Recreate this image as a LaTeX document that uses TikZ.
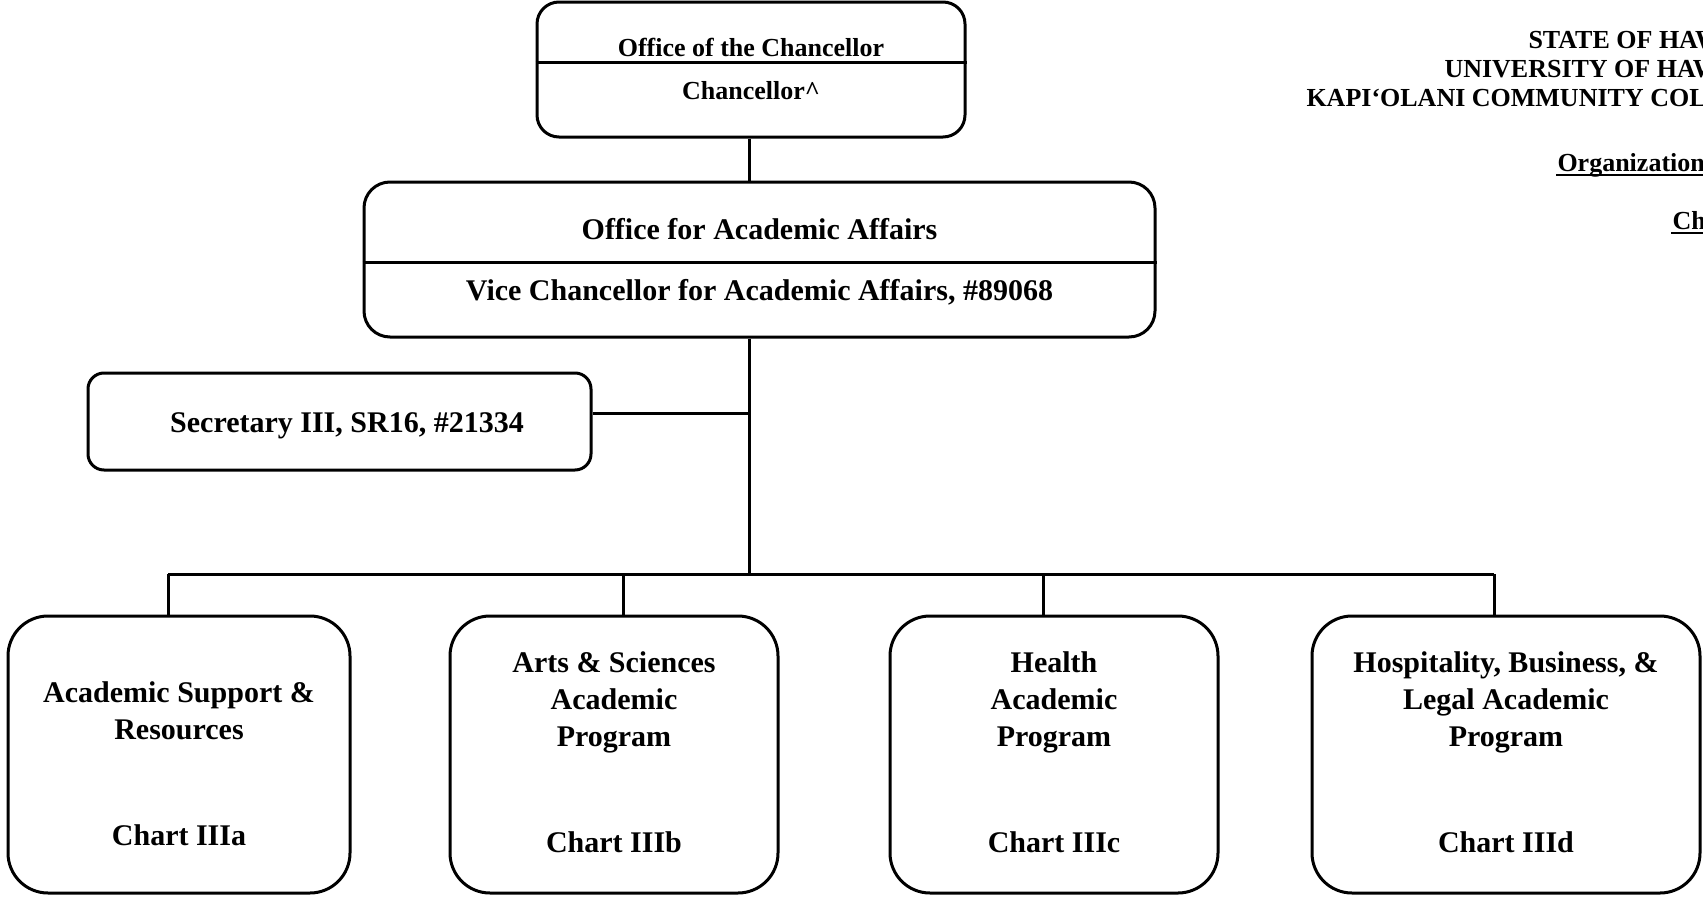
\documentclass[tikz,border=0pt]{standalone}
\usepackage{fontspec}
\setmainfont{Liberation Serif}
\begin{document}
\begin{tikzpicture}[x=1pt,y=-1pt,line width=3pt,
  box/.style={draw, rounded corners=#1, inner sep=0pt, line width=3pt},
  txtA/.style={inner sep=0pt, align=center, font=\bfseries\fontsize{30}{37}\selectfont},
  txtB/.style={inner sep=0pt, align=center, font=\bfseries\fontsize{26}{30}\selectfont},
  hdr/.style={inner sep=0pt, anchor=base west, font=\bfseries\fontsize{26}{29}\selectfont},
  uline/.style={line width=2pt}]
\useasboundingbox (0,0) rectangle (1703,902);
\clip (0,0) rectangle (1703,902);

% Header (cut by the right edge, as in the original)
\node[hdr] (h1) at (1527,48) {STATE OF HAW};
\node[hdr] (h2) at (1443,77) {UNIVERSITY OF HAW};
\node[hdr] (h3) at (1305,106) {KAPI‘OLANI COMMUNITY COLL};
\node[hdr] (h4) at (1556,171) {Organization};
\node[hdr] (h5) at (1671,229) {Ch};
\draw[uline] ([yshift=-4pt]h4.base west) -- ([yshift=-4pt]h4.base east);
\draw[uline] ([yshift=-4pt]h5.base west) -- ([yshift=-4pt]h5.base east);

% Chancellor
\node[box=22pt, minimum width=428pt, minimum height=135pt] (chan) at (751,69.5) {};
\coordinate (cdiv) at (751,62);
\draw (chan.west |- cdiv) -- (chan.east |- cdiv);
\node[txtB] (chan1) at (751,47) {Office of the Chancellor};
\node[txtB] (chan2) at (751,91) {Chancellor\^{}};

% Vice Chancellor
\node[box=26pt, minimum width=791pt, minimum height=155pt] (vcaa) at (759.5,259.5) {};
\coordinate (vdiv) at (759.5,262);
\draw (vcaa.west |- vdiv) -- (vcaa.east |- vdiv);
\node[txtA] (vcaa1) at (759.5,229) {Office for Academic Affairs};
\node[txtA] (vcaa2) at (759.5,292) {Vice Chancellor for Academic Affairs, \#89068};

% Secretary
\node[box=16pt, minimum width=503pt, minimum height=97pt] (sec) at (339.5,421.5) {};
\node[txtA] (sect) at (347,426) {Secretary III, SR16, \#21334};

% Bottom boxes
\node[box=40pt, minimum width=342pt, minimum height=277pt] (b1) at (179,754.5) {};
\node[box=40pt, minimum width=328pt, minimum height=277pt] (b2) at (614,754.5) {};
\node[box=40pt, minimum width=328pt, minimum height=277pt] (b3) at (1054,754.5) {};
\node[box=40pt, minimum width=388pt, minimum height=277pt] (b4) at (1506,754.5) {};

\node[txtA] (b1t) at (179,710.5) {Academic Support \&\\Resources};
\node[txtA] (b1c) at (179,835) {Chart IIIa};
\node[txtA] (b2t) at (614,702) {Arts \& Sciences\\Academic\\Program};
\node[txtA] (b2c) at (614,842) {Chart IIIb};
\node[txtA] (b3t) at (1054,702) {Health\\Academic\\Program};
\node[txtA] (b3c) at (1054,842) {Chart IIIc};
\node[txtA] (b4t) at (1506,702) {Hospitality, Business, \&\\Legal Academic\\Program};
\node[txtA] (b4c) at (1506,842) {Chart IIId};

% Connectors
\coordinate (spine) at (749,574);
\coordinate (sj) at (749,413);
\coordinate (d1) at (168,574);
\coordinate (d2) at (623,574);
\coordinate (d3) at (1043,574);
\coordinate (d4) at (1494,574);
\draw (chan.south -| spine) -- (vcaa.north -| spine);
\draw (vcaa.south -| spine) -- (spine);
\draw (sec.east |- sj) -- (sj);
\draw (d1) -- (d4);
\draw (d1) -- (d1 |- b1.north);
\draw (d2) -- (d2 |- b2.north);
\draw (d3) -- (d3 |- b3.north);
\draw (d4) -- (d4 |- b4.north);
\end{tikzpicture}
\end{document}
